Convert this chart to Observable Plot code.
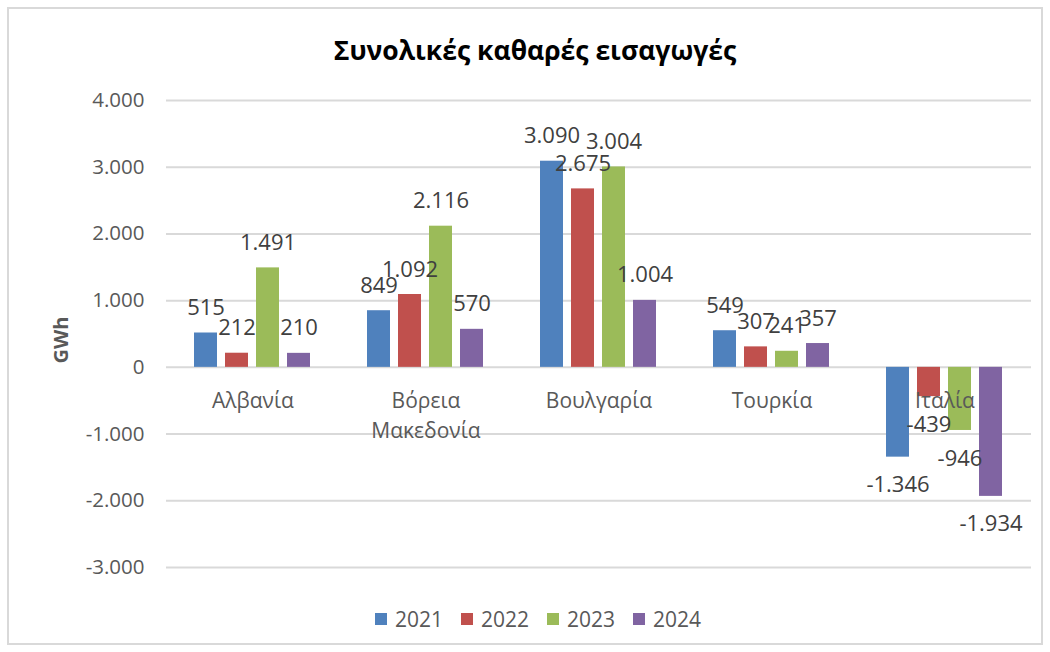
<!DOCTYPE html>
<html>
<head>
<meta charset="utf-8">
<script src="https://cdn.jsdelivr.net/npm/d3@7"></script>
<script src="https://cdn.jsdelivr.net/npm/@observablehq/plot@0.6"></script>
<style>
  body { margin: 0; background: #fff; font-family: "Open Sans", sans-serif; }
  #wrap { position: relative; width: 1050px; height: 652px; overflow: hidden; }
  #frame { position: absolute; left: 7px; top: 7px; width: 1032px; height: 634px; border: 2px solid #d9d9d9; }
  #title { position: absolute; left: 0; top: 30px; width: 1070px; text-align: center; font-size: 26.5px; font-weight: bold; color: #000; line-height: 40px; }
  #ylabel { position: absolute; left: 60px; top: 340px; transform: translate(-50%, -50%) rotate(-90deg); font-size: 20px; font-weight: bold; color: #595959; white-space: nowrap; }
  #chart { position: absolute; left: 0; top: 80px; }
  #legend { position: absolute; left: 375px; top: 604px; display: flex; align-items: center; font-size: 21px; color: #595959; line-height: 30px; }
  .item { display: flex; align-items: center; margin-right: 18px; }
  .sw { width: 12px; height: 12px; margin-right: 8px; }
</style>
</head>
<body>
<div id="wrap">
  <div id="frame"></div>
  <div id="title">Συνολικές καθαρές εισαγωγές</div>
  <div id="ylabel">GWh</div>
  <div id="chart"></div>
  <div id="legend"></div>
</div>
<script>
const countries = ["Αλβανία", "Βόρεια\nΜακεδονία", "Βουλγαρία", "Τουρκία", "Ιταλία"];
const years = ["2021", "2022", "2023", "2024"];
const colors = ["#4F81BD", "#C0504D", "#9BBB59", "#8064A2"];
const v2021 = [515, 849, 3090, 549, -1346];
const v2022 = [212, 1092, 2675, 307, -439];
const v2023 = [1491, 2116, 3004, 241, -946];
const v2024 = [210, 570, 1004, 357, -1934];
const yTicks = [-3000, -2000, -1000, 0, 1000, 2000, 3000, 4000];

const series = [v2021, v2022, v2023, v2024];
const data = [];
countries.forEach((c, i) => years.forEach((y, j) => data.push({country: c, year: y, value: series[j][i]})));

const fmt = d3.formatLocale({decimal: ",", thousands: ".", grouping: [3], currency: ["", "€"], minus: "-"}).format(",d");
const font = "Open Sans, sans-serif";

const chart = Plot.plot({
  width: 1050,
  height: 520,
  marginLeft: 165,
  marginRight: 19,
  marginTop: 20,
  marginBottom: 33,
  style: {fontFamily: font, fontSize: "20.5px", color: "#595959", background: "transparent"},
  fx: {domain: countries, padding: 0, axis: null},
  x: {domain: years, paddingInner: 0.25, paddingOuter: 0.83, axis: null},
  y: {domain: [-3000, 4000], ticks: yTicks, tickFormat: fmt, tickSize: 0, tickPadding: 22, label: null},
  color: {domain: years, range: colors},
  marks: [
    Plot.ruleY(yTicks, {stroke: "#d9d9d9", strokeWidth: 2}),
    Plot.barY(data, {fx: "country", x: "year", y: "value", fill: "year"}),
    Plot.text(countries, {fx: d => d, y: 0, text: d => d, frameAnchor: "middle", lineAnchor: "top", dy: 20, lineHeight: 1.4, fontSize: 21, fill: "#595959"}),
    Plot.text(data.filter(d => d.value >= 0), {fx: "country", x: "year", y: "value", text: d => fmt(d.value), lineAnchor: "middle", dy: -25, fontSize: 22, fill: "#404040"}),
    Plot.text(data.filter(d => d.value < 0), {fx: "country", x: "year", y: "value", text: d => fmt(d.value), lineAnchor: "middle", dy: 28, fontSize: 22, fill: "#404040"})
  ]
});
document.getElementById("chart").appendChild(chart);

const legend = document.getElementById("legend");
years.forEach((y, i) => {
  const it = document.createElement("div");
  it.className = "item";
  const sw = document.createElement("div");
  sw.className = "sw";
  sw.style.background = colors[i];
  const t = document.createElement("span");
  t.textContent = y;
  it.appendChild(sw);
  it.appendChild(t);
  legend.appendChild(it);
});
</script>
</body>
</html>
